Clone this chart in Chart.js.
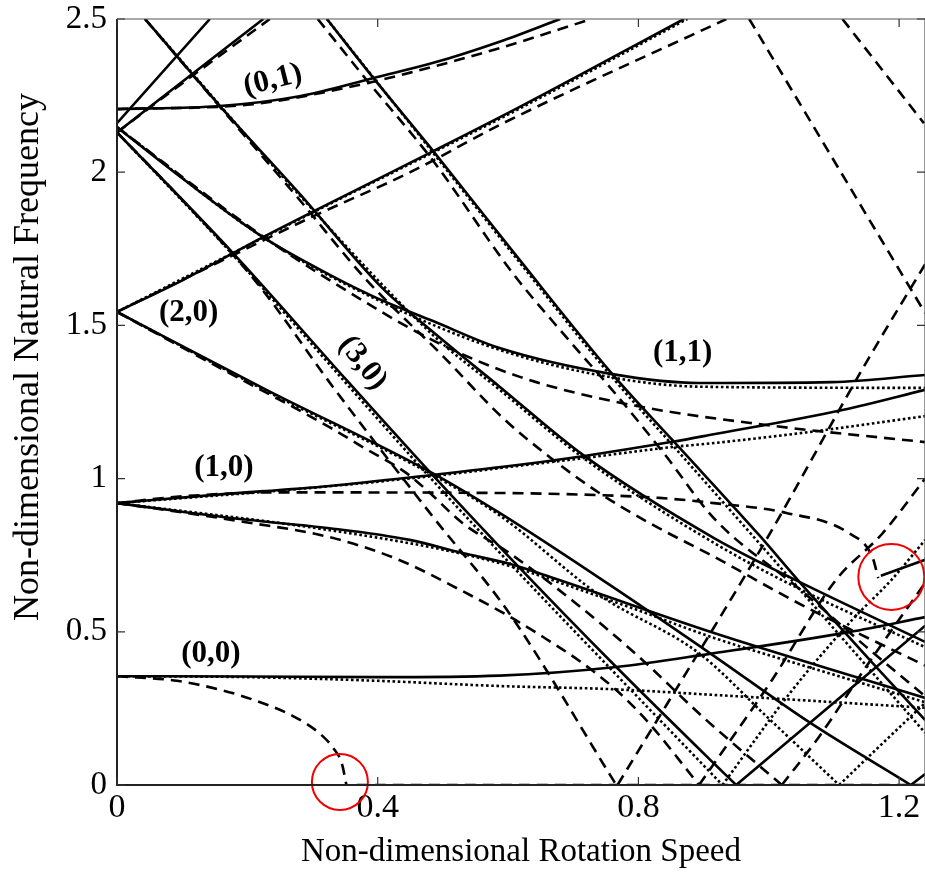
<!DOCTYPE html>
<html>
<head>
<meta charset="utf-8">
<script src="https://cdn.jsdelivr.net/npm/chart.js@4"></script>
<style>
  html, body { margin: 0; padding: 0; background: #fff; overflow: hidden; }
  canvas { display: block; }
</style>
</head>
<body>
<canvas id="c" width="925" height="875"></canvas>
<script>
// ---------- ticks ----------
const xTicks = [0, 0.4, 0.8, 1.2];
const xTickLabels = ['0', '0.4', '0.8', '1.2'];
const yTicks = [0, 0.5, 1, 1.5, 2, 2.5];
const yTickLabels = ['0', '0.5', '1', '1.5', '2', '2.5'];

// ---------- solid curves ----------
const s00F = [[0,0.355],[0.2,0.354],[0.4,0.352],[0.587,0.357],[0.766,0.385],[0.909,0.428],[1.123,0.499],[1.24,0.548]];
const s01 = [[0,2.206],[0.158,2.216],[0.28,2.248],[0.398,2.31],[0.484,2.356],[0.587,2.426],[0.68,2.5]];
const s10F = [[0,0.92],[0.15,0.947],[0.326,0.976],[0.484,1.012],[0.602,1.041],[0.717,1.074],[0.852,1.12],[0.909,1.142],[1.113,1.224],[1.24,1.29]];
const s10B = [[0,0.92],[0.189,0.868],[0.326,0.838],[0.449,0.80],[0.53,0.757],[0.602,0.722],[0.674,0.672],[0.916,0.496],[1.139,0.349],[1.24,0.284]];
const s20F = [[0,1.544],[0.101,1.648],[0.224,1.788],[0.306,1.877],[0.48,2.063],[0.618,2.213],[0.87,2.5]];
const s20B = [[0,1.544],[0.23,1.289],[0.484,1.018],[0.587,0.888],[0.756,0.653],[0.914,0.424],[1.062,0.205],[1.218,0]];
const s20Br = [[1.218,0],[1.24,0.036]];
const s30B = [[0,2.13],[0.178,1.736],[0.352,1.322],[0.484,1.012],[0.602,0.744],[0.766,0.385],[0.916,0.07],[0.95,0]];
const s30Br = [[0.95,0],[1.24,0.52]];
const s30F = [[0,2.16],[0.1425,2.5]];
const s11F = [[0,2.13],[0.2245,2.5]];
const s11B = [[0,2.147],[0.1,1.98],[0.224,1.788],[0.331,1.66],[0.398,1.59],[0.484,1.515],[0.587,1.426],[0.76,1.341],[0.893,1.312],[1.097,1.315],[1.24,1.338]];
const s21 = [[0.043,2.5],[0.158,2.216],[0.28,1.93],[0.408,1.62],[0.484,1.48],[0.587,1.30],[0.717,1.074],[0.916,0.806],[1.047,0.663],[1.24,0.467]];
const sX = [[0.322,2.5],[0.392,2.311],[0.484,2.072],[0.618,1.713],[0.76,1.341],[0.852,1.126],[0.985,0.816],[1.047,0.663],[1.165,0.385],[1.24,0.212]];
const sShort = [[1.172,0.683],[1.24,0.735]];

// ---------- dashed curves ----------
const d00 = [[0,0.355],[0.092,0.340],[0.16,0.31],[0.208,0.279],[0.27,0.225],[0.31,0.17],[0.332,0.12],[0.345,0.07],[0.352,0.0]];
const d00z = [[0.368,0],[1.24,0]];
const d01 = [[0,2.206],[0.2,2.22],[0.35,2.275],[0.45,2.325],[0.587,2.405],[0.728,2.5]];
const d10F = [[0,0.92],[0.1,0.942],[0.25,0.955],[0.587,0.953],[0.74,0.946],[0.832,0.937],[0.916,0.92],[1.027,0.888],[1.123,0.822],[1.159,0.744],[1.168,0.675]];
const d10B = [[0,0.92],[0.077,0.897],[0.2,0.857],[0.326,0.809],[0.429,0.738],[0.53,0.633],[0.602,0.55],[0.644,0.496],[0.714,0.398],[0.771,0.30],[0.817,0.2],[0.893,0]];
const d10Br = [[0.893,0],[1.005,0.343],[1.103,0.669],[1.174,0.82],[1.24,1.0]];
const d20F = [[0,1.544],[0.15,1.70],[0.3,1.855],[0.45,2.0],[0.587,2.154],[0.935,2.5]];
const d20B = [[0,1.544],[0.15,1.37],[0.326,1.168],[0.377,1.103],[0.444,1.018],[0.475,0.963],[0.53,0.855],[0.602,0.757],[0.7,0.6],[0.8,0.42],[0.9,0.22],[1.02,0]];
const d20Br = [[1.02,0],[1.077,0.157],[1.149,0.385],[1.24,0.66]];
const d30B = [[0,2.13],[0.1,1.91],[0.215,1.638],[0.331,1.30],[0.48,0.888],[0.602,0.56],[0.766,0]];
const d30Br = [[0.768,0],[0.996,0.80],[1.149,1.377],[1.24,1.70]];
const d11F = [[0,2.13],[0.1,2.29],[0.2345,2.5]];
const d11B = [[0,2.147],[0.224,1.79],[0.326,1.648],[0.484,1.452],[0.618,1.332],[0.79,1.24],[0.996,1.175],[1.24,1.119]];
const d21 = [[0.043,2.5],[0.162,2.203],[0.28,1.91],[0.383,1.648],[0.5,1.40],[0.592,1.198],[0.664,1.07],[0.74,0.953],[0.817,0.855],[0.916,0.745],[1.036,0.604],[1.123,0.51],[1.24,0.39]];
const dX = [[0.308,2.5],[0.383,2.301],[0.484,2.04],[0.607,1.671],[0.69,1.46],[0.76,1.289],[0.84,1.08],[0.916,0.87],[1.047,0.64],[1.15,0.45],[1.24,0.29]];
const dHi1 = [[0.97,2.5],[1.24,1.54]];
const dHi2 = [[1.113,2.5],[1.238,2.16]];

// ---------- dotted curves ----------
const t00 = [[0,0.355],[0.2,0.352],[0.4,0.34],[0.587,0.323],[0.756,0.313],[0.916,0.294],[1.24,0.252]];
const t10F = [[0,0.92],[0.3,0.97],[0.5,1.012],[0.602,1.038],[0.717,1.067],[0.852,1.103],[0.916,1.116],[1.062,1.152],[1.24,1.204]];
const t10B = [[0,0.92],[0.3,0.84],[0.5,0.768],[0.602,0.715],[0.7,0.645],[0.8,0.57],[0.916,0.48],[1.1,0.36],[1.24,0.27]];
const t11B = [[0,2.147],[0.224,1.788],[0.398,1.585],[0.587,1.42],[0.76,1.33],[0.893,1.30],[1.24,1.296]];
const t20F = [[0,1.544],[0.3,1.868],[0.618,2.208],[0.875,2.5]];
const t20B = [[0,1.544],[0.23,1.285],[0.484,1.012],[0.587,0.88],[0.74,0.62],[0.893,0.43],[0.996,0.225],[1.108,0]];
const t20Br = [[1.108,0],[1.18,0.147],[1.24,0.268]];
const t30B = [[0,2.13],[0.178,1.73],[0.352,1.31],[0.484,0.995],[0.602,0.725],[0.766,0.36],[0.929,0]];
const t30Br = [[0.929,0],[1.034,0.304],[1.128,0.539],[1.188,0.669],[1.24,0.8]];
const t21 = [[0.043,2.5],[0.28,1.925],[0.484,1.47],[0.587,1.29],[0.717,1.065],[0.916,0.79],[1.047,0.64],[1.24,0.45]];
const tX = [[0.322,2.5],[0.484,2.066],[0.618,1.705],[0.76,1.33],[0.852,1.11],[0.985,0.79],[1.1,0.51],[1.24,0.17]];

// ---------- red circles (centres) ----------
const circleCentres = [[0.342,0.01],[1.188,0.679]];
const circleRadii = [28, 33];

// ---------- mode labels ----------
const modeLabels = ['(0,1)', '(2,0)', '(3,0)', '(1,1)', '(1,0)', '(0,0)'];
const labelX = [0.239, 0.110, 0.377, 0.868, 0.164, 0.144];
const labelY = [2.30, 1.54, 1.377, 1.41, 1.035, 0.428];
const labelAngle = [-14, 0, 52, 0, 0, 0];

const yTitle = 'Non-dimensional Natural Frequency';
const xTitle = 'Non-dimensional Rotation Speed';

const solidLines = [s00F, s01, s10F, s10B, s20F, s20B, s20Br, s30B, s30Br, s30F, s11F, s11B, s21, sX, sShort];
const dashedLines = [d00, d00z, d01, d10F, d10B, d10Br, d20F, d20B, d20Br, d30B, d30Br, d11F, d11B, d21, dX, dHi1, dHi2];
const dottedLines = [t00, t10F, t10B, t11B, t20F, t20B, t20Br, t30B, t30Br, t21, tX];

const FONT = "'Liberation Serif', 'Times New Roman', Times, serif";

function mk(arr, dash, order) {
  return {
    data: arr.map(p => ({ x: p[0], y: p[1] })),
    showLine: true,
    borderColor: '#000',
    backgroundColor: '#000',
    borderWidth: 2.6,
    borderDash: dash,
    borderCapStyle: 'butt',
    pointRadius: 0,
    pointHoverRadius: 0,
    cubicInterpolationMode: 'monotone',
    fill: false,
    order: order
  };
}

const datasets = [];
solidLines.forEach(a => datasets.push(mk(a, [], 1)));
dashedLines.forEach(a => datasets.push(mk(a, [11, 7], 2)));
dottedLines.forEach(a => datasets.push(mk(a, [2.6, 2.6], 3)));
datasets.push({
  data: circleCentres.map(p => ({ x: p[0], y: p[1] })),
  showLine: false,
  pointRadius: circleRadii,
  pointHoverRadius: circleRadii,
  pointBorderColor: '#ee0000',
  pointBackgroundColor: 'rgba(0,0,0,0)',
  pointBorderWidth: 2,
  clip: false,
  order: 0
});

const framePlugin = {
  id: 'frame',
  afterDatasetsDraw(chart) {
    const { ctx, chartArea, scales } = chart;
    const { left, right, top, bottom } = chartArea;
    ctx.save();
    ctx.lineCap = 'butt';
    ctx.strokeStyle = '#222';
    ctx.lineWidth = 2;
    ctx.beginPath();
    ctx.moveTo(left, top); ctx.lineTo(left, bottom); ctx.lineTo(right, bottom);
    ctx.stroke();
    ctx.strokeStyle = '#555';
    ctx.lineWidth = 1.2;
    ctx.beginPath();
    ctx.moveTo(left, top); ctx.lineTo(right, top); ctx.lineTo(right, bottom);
    ctx.stroke();
    ctx.strokeStyle = '#333';
    ctx.lineWidth = 1.2;
    ctx.beginPath();
    xTicks.forEach(v => {
      const px = scales.x.getPixelForValue(v);
      ctx.moveTo(px, bottom); ctx.lineTo(px, bottom - 8);
      ctx.moveTo(px, top); ctx.lineTo(px, top + 8);
    });
    yTicks.forEach(v => {
      const py = scales.y.getPixelForValue(v);
      ctx.moveTo(left, py); ctx.lineTo(left + 8, py);
      ctx.moveTo(right, py); ctx.lineTo(right - 8, py);
    });
    ctx.stroke();
    ctx.fillStyle = '#000';
    ctx.font = 'bold 31px ' + FONT;
    ctx.textAlign = 'center';
    ctx.textBaseline = 'middle';
    modeLabels.forEach((t, i) => {
      const px = scales.x.getPixelForValue(labelX[i]);
      const py = scales.y.getPixelForValue(labelY[i]);
      ctx.save();
      ctx.translate(px, py);
      ctx.rotate(labelAngle[i] * Math.PI / 180);
      ctx.fillText(t, 0, 0);
      ctx.restore();
    });
    ctx.font = '36px ' + FONT;
    ctx.save();
    ctx.translate(29, 357);
    ctx.rotate(-Math.PI / 2);
    ctx.fillText(yTitle, 0, 0);
    ctx.restore();
    ctx.restore();
  }
};

new Chart(document.getElementById('c'), {
  type: 'scatter',
  data: { datasets },
  plugins: [framePlugin],
  options: {
    responsive: false,
    animation: false,
    events: [],
    layout: { autoPadding: false, padding: { left: 0, right: 0, top: 19, bottom: 0 } },
    plugins: { legend: { display: false }, tooltip: { enabled: false } },
    scales: {
      x: {
        type: 'linear',
        min: 0,
        max: 1.2397,
        afterBuildTicks: s => { s.ticks = xTicks.map(v => ({ value: v })); },
        afterFit: s => { s.height = 90; s.paddingLeft = 0; s.paddingRight = 0; },
        grid: { display: false, drawTicks: false },
        border: { display: false },
        ticks: {
          autoSkip: false,
          maxRotation: 0,
          padding: 4,
          color: '#000',
          font: { family: FONT, size: 34, lineHeight: 1.1 },
          callback: (v, i) => xTickLabels[i]
        },
        title: {
          display: true,
          text: xTitle,
          color: '#000',
          font: { family: FONT, size: 33, lineHeight: 1.2 },
          padding: { top: 0, bottom: 3 }
        }
      },
      y: {
        type: 'linear',
        min: 0,
        max: 2.5,
        afterBuildTicks: s => { s.ticks = yTicks.map(v => ({ value: v })); },
        afterFit: s => { s.width = 117; s.paddingTop = 0; s.paddingBottom = 0; },
        grid: { display: false, drawTicks: false },
        border: { display: false },
        ticks: {
          autoSkip: false,
          padding: 10,
          color: '#000',
          font: { family: FONT, size: 33, lineHeight: 1.0 },
          callback: (v, i) => yTickLabels[i]
        },
        title: { display: false }
      }
    }
  }
});
</script>
</body>
</html>
